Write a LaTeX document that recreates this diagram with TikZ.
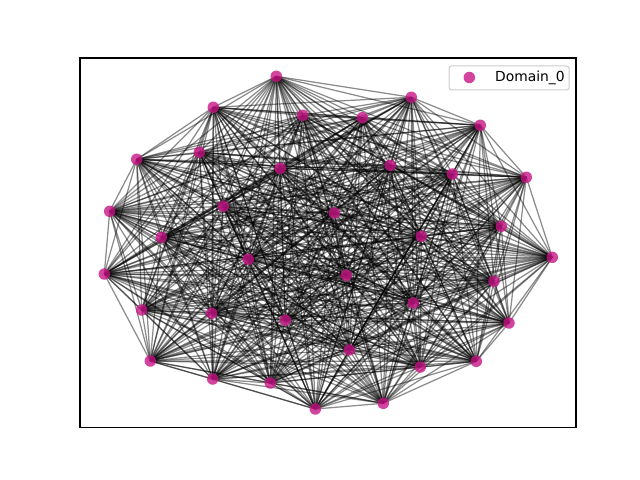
\documentclass[tikz,border=0pt]{standalone}
\usepackage{fontspec}
\setmainfont{DejaVu Sans}
\usetikzlibrary{backgrounds}
\definecolor{vcol}{RGB}{199,21,133}
\tikzset{
  vertex/.style={circle,fill=vcol,fill opacity=0.8,draw=none,minimum size=11.5bp,inner sep=0pt},
  edgeline/.style={draw=black,draw opacity=0.45,line width=1.25bp},
  legendbox/.style={draw=black!20,fill=white,fill opacity=0.8,rounded corners=2.5bp,line width=1bp},
  legendtext/.style={anchor=west,inner sep=0pt,font=\fontsize{13.9}{16}\selectfont}
}
\begin{document}
\begin{tikzpicture}[x=1bp,y=-1bp]
\useasboundingbox (0,0) rectangle (640,480);
\foreach \k/\x/\y in {
1/276.3/76.3, 2/213.3/107.3, 3/302.7/115.3, 4/136.7/159.3, 5/199.3/152.3,
6/280.3/168.3, 7/109.7/211.3, 8/223.3/206.3, 9/161.3/237.3, 10/411.3/97.3,
11/362.3/117.7, 12/480.3/125.3, 13/390.3/165.3, 14/452.3/174, 15/526.3/177.3,
16/334.3/213, 17/501.3/226.3, 18/421.3/236.3, 19/104.3/274, 20/248.3/259.3,
21/141.7/310, 22/211.7/313.3, 23/285.3/320.3, 24/150.3/361, 25/212.7/379,
26/270.3/383, 27/315.3/409, 28/552.3/257.3, 29/346.3/275.3, 30/494/281.3,
31/413.3/303, 32/509/323, 33/349.3/350, 34/476.3/361.3, 35/420.3/367,
36/383.3/403.3}
  \node[vertex] (n\k) at (\x,\y) {};
\begin{pgfonlayer}{background}
\foreach \i in {1,...,35}{
  \pgfmathtruncatemacro\s{\i+1}
  \foreach \j in {\s,...,36}{
    \draw[edgeline] (n\i.center) -- (n\j.center);
  }
}
\end{pgfonlayer}
\draw[line width=1.1bp] (80,58) rectangle (576,427.5);
\draw[legendbox] (449,66) rectangle (569,90);
\node[vertex] (legmark) at (469.3,77.5) {};
\node[legendtext] (legtext) at (495,77.5) {Domain\_0};
\end{tikzpicture}
\end{document}
